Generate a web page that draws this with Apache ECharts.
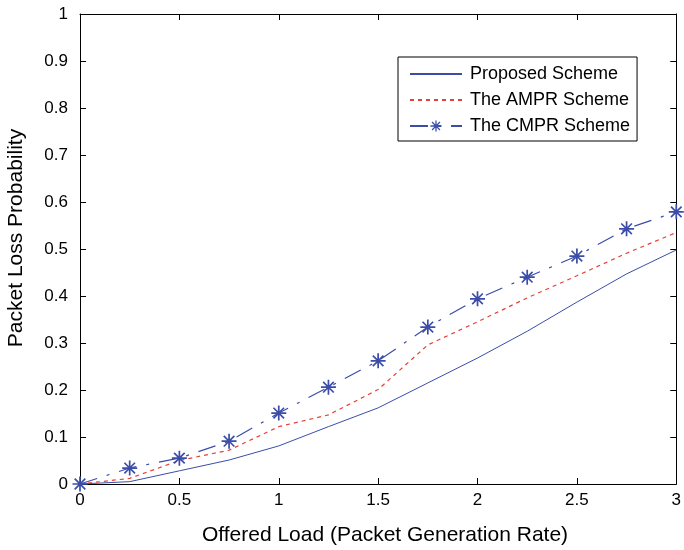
<!DOCTYPE html>
<html>
<head>
<meta charset="utf-8">
<script src="https://cdn.jsdelivr.net/npm/echarts@6/dist/echarts.min.js"></script>
<style>
  html, body { margin: 0; padding: 0; background: #fff; }
  #main { width: 684px; height: 550px; }
</style>
</head>
<body>
<div id="main"></div>
<script>
// offered load values (x)
var loads = [0, 0.25, 0.5, 0.75, 1, 1.25, 1.5, 1.75, 2, 2.25, 2.5, 2.75, 3];
// packet loss probability per scheme
var proposed = [0, 0.005, 0.028, 0.051, 0.081, 0.122, 0.162, 0.215, 0.268, 0.325, 0.387, 0.447, 0.498];
var ampr = [0, 0.012, 0.05, 0.072, 0.122, 0.147, 0.201, 0.296, 0.345, 0.396, 0.443, 0.491, 0.535];
var cmpr = [0, 0.034, 0.055, 0.091, 0.151, 0.206, 0.262, 0.334, 0.394, 0.44, 0.485, 0.543, 0.579];
var schemeNames = ['Proposed Scheme', 'The AMPR Scheme', 'The CMPR Scheme'];

var blue = '#3b4da8';
var red = '#e5403a';
var star = 'path://M-0.8,-7 L0.8,-7 L0.8,7 L-0.8,7 Z M-7,-0.8 L7,-0.8 L7,0.8 L-7,0.8 Z ' +
  'M-5.5,-4.4 L-4.4,-5.5 L5.5,4.4 L4.4,5.5 Z M4.4,-5.5 L5.5,-4.4 L-4.4,5.5 L-5.5,4.4 Z ' +
  'M-2,-2 L2,-2 L2,2 L-2,2 Z';

function pairs (ys) {
  return loads.map(function (x, i) { return [x, ys[i]] })
}

// box axis (top / right): ticks only
function boxAxis (pos, max, step) {
  return {
    type: 'value', min: 0, max: max, interval: step, position: pos,
    axisLine: { onZero: false, lineStyle: { color: '#000' } },
    axisTick: { inside: true, length: 6, lineStyle: { color: '#000' } },
    axisLabel: { show: false },
    splitLine: { show: false }
  }
}

var chart = echarts.init(document.getElementById('main'))
var font = 'Liberation Sans'
var option = {
  animation: false,
  grid: { left: 80, right: 5, top: 14, bottom: 66 },
  legend: {
    orient: 'vertical',
    left: 398,
    top: 57,
    padding: [8, 7, 6, 11],
    itemGap: 8,
    itemWidth: 52,
    itemHeight: 14,
    borderColor: '#000',
    borderWidth: 1,
    borderRadius: 0,
    backgroundColor: '#fff',
    textStyle: { fontFamily: font, fontSize: 18, color: '#000', padding: [0, 0, 0, 3] },
    data: [
      { name: schemeNames[0], itemStyle: { opacity: 0 } },
      { name: schemeNames[1], itemStyle: { opacity: 0 } },
      { name: schemeNames[2] }
    ]
  },
  graphic: [
    {
      type: 'text', x: 385, y: 535,
      style: { text: 'Offered Load (Packet Generation Rate)', font: '21px "Liberation Sans"',
        fill: '#000', textAlign: 'center', textVerticalAlign: 'middle' }
    },
    {
      type: 'text', x: 16, y: 238, rotation: Math.PI / 2,
      style: { text: 'Packet Loss Probability', font: '21px "Liberation Sans"',
        fill: '#000', textAlign: 'center', textVerticalAlign: 'middle' }
    }
  ],
  xAxis: [{
    type: 'value', min: 0, max: 3, interval: 0.5,
    axisLine: { onZero: false, lineStyle: { color: '#000' } },
    axisTick: { inside: true, length: 6, lineStyle: { color: '#000' } },
    axisLabel: { fontFamily: font, fontSize: 17, color: '#000', margin: 8 },
    splitLine: { show: false }
  }, boxAxis('top', 3, 0.5)],
  yAxis: [{
    type: 'value', min: 0, max: 1, interval: 0.1,
    axisLine: { onZero: false, lineStyle: { color: '#000' } },
    axisTick: { inside: true, length: 6, lineStyle: { color: '#000' } },
    axisLabel: { fontFamily: font, fontSize: 17, color: '#000', margin: 12,
      formatter: function (v) { return String(Math.round(v * 10) / 10) } },
    splitLine: { show: false }
  }, boxAxis('right', 1, 0.1)],
  series: [
    {
      name: schemeNames[0],
      type: 'line',
      data: pairs(proposed),
      symbol: 'none',
      lineStyle: { color: blue, width: 1 },
      itemStyle: { color: blue }
    },
    {
      name: schemeNames[1],
      type: 'line',
      data: pairs(ampr),
      symbol: 'none',
      lineStyle: { color: red, width: 1.2, type: [4, 4] },
      itemStyle: { color: red }
    },
    {
      name: schemeNames[2],
      type: 'line',
      data: pairs(cmpr),
      symbol: star,
      symbolSize: 15,
      showAllSymbol: true,
      lineStyle: { color: blue, width: 1.2, type: [18, 10, 3, 10] },
      itemStyle: { color: blue }
    }
  ]
}
chart.setOption(option)
</script>
</body>
</html>
